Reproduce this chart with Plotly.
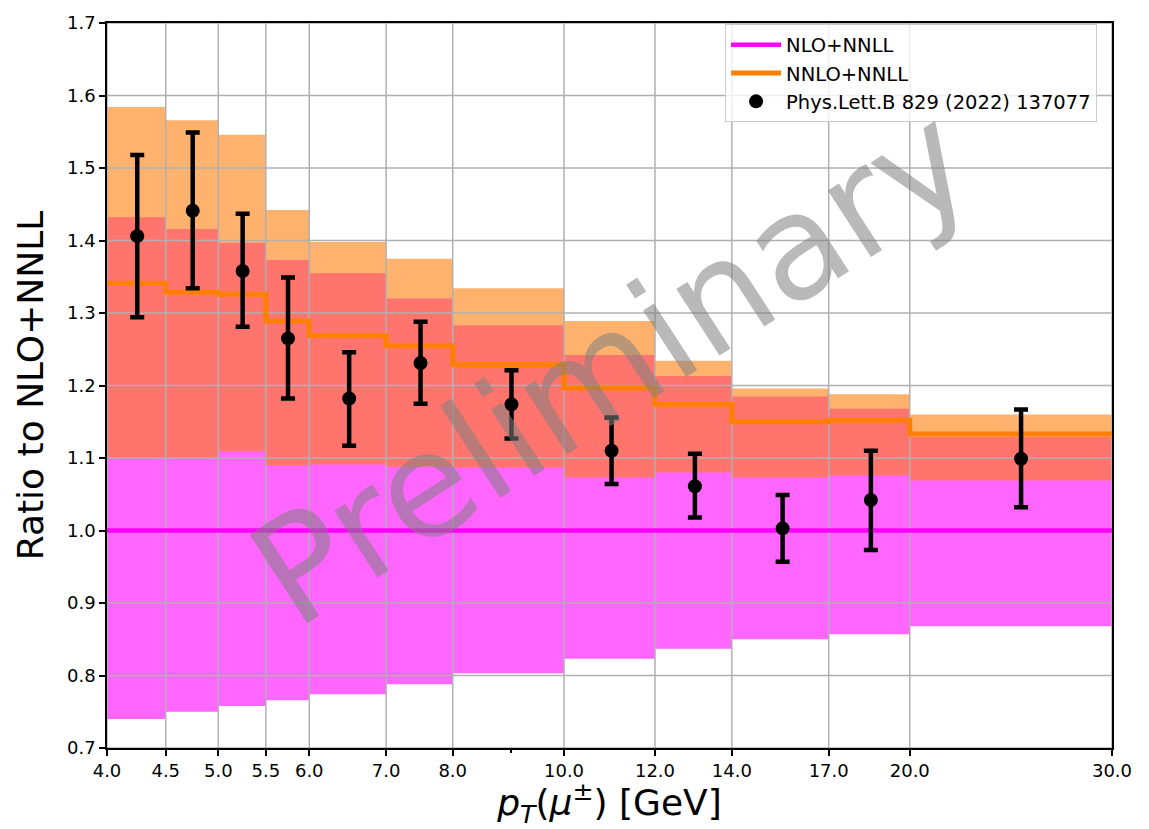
import math
import plotly.graph_objects as go

# ---- data ----
edges = [4.0, 4.5, 5.0, 5.5, 6.0, 7.0, 8.0, 10.0, 12.0, 14.0, 17.0, 20.0, 30.0]
x_tick_labels = ["4.0", "4.5", "5.0", "5.5", "6.0", "7.0", "8.0", "10.0", "12.0", "14.0", "17.0", "20.0", "30.0"]
y_ticks = [0.7, 0.8, 0.9, 1.0, 1.1, 1.2, 1.3, 1.4, 1.5, 1.6, 1.7]
bin_centers = [4.25, 4.75, 5.25, 5.75, 6.5, 7.5, 9.0, 11.0, 13.0, 15.5, 18.5, 25.0]

nlo_central = [1.0, 1.0, 1.0, 1.0, 1.0, 1.0, 1.0, 1.0, 1.0, 1.0, 1.0, 1.0]
nlo_lo = [0.740, 0.750, 0.758, 0.766, 0.774, 0.788, 0.803, 0.823, 0.837, 0.850, 0.857, 0.868]
nlo_hi = [1.432, 1.416, 1.397, 1.373, 1.355, 1.320, 1.283, 1.242, 1.213, 1.185, 1.168, 1.129]

nnlo_central = [1.341, 1.329, 1.326, 1.289, 1.269, 1.255, 1.229, 1.197, 1.174, 1.150, 1.152, 1.133]
nnlo_lo = [1.100, 1.100, 1.109, 1.090, 1.091, 1.088, 1.087, 1.073, 1.080, 1.073, 1.076, 1.069]
nnlo_hi = [1.584, 1.566, 1.546, 1.442, 1.398, 1.375, 1.334, 1.289, 1.234, 1.196, 1.188, 1.160]

data_val = [1.406, 1.441, 1.358, 1.265, 1.182, 1.231, 1.174, 1.110, 1.061, 1.003, 1.042, 1.099]
data_hi = [1.518, 1.549, 1.437, 1.349, 1.246, 1.288, 1.221, 1.156, 1.106, 1.049, 1.110, 1.167]
data_lo = [1.294, 1.334, 1.281, 1.182, 1.117, 1.175, 1.127, 1.064, 1.018, 0.957, 0.973, 1.032]


def step(vals):
    return list(vals) + [vals[-1]]


FONT = "DejaVu Sans"
fig = go.Figure()

# NLO+NNLL band
fig.add_trace(go.Scatter(x=edges, y=step(nlo_lo), mode="lines", line=dict(width=0, shape="hv"),
                         showlegend=False, hoverinfo="skip"))
fig.add_trace(go.Scatter(x=edges, y=step(nlo_hi), mode="lines", line=dict(width=0, shape="hv"),
                         fill="tonexty", fillcolor="rgba(255,0,255,0.6)", showlegend=False, hoverinfo="skip"))
# NNLO+NNLL band
fig.add_trace(go.Scatter(x=edges, y=step(nnlo_lo), mode="lines", line=dict(width=0, shape="hv"),
                         showlegend=False, hoverinfo="skip"))
fig.add_trace(go.Scatter(x=edges, y=step(nnlo_hi), mode="lines", line=dict(width=0, shape="hv"),
                         fill="tonexty", fillcolor="rgba(255,127,14,0.6)", showlegend=False, hoverinfo="skip"))

# grid lines (drawn above the bands, below the lines)
gx, gy = [], []
for t in edges:
    gx += [t, t, None]
    gy += [y_ticks[0], y_ticks[-1], None]
for t in y_ticks:
    gx += [edges[0], edges[-1], None]
    gy += [t, t, None]
fig.add_trace(go.Scatter(x=gx, y=gy, mode="lines", line=dict(color="#b0b0b0", width=1.5),
                         showlegend=False, hoverinfo="skip"))

# central lines
fig.add_trace(go.Scatter(x=edges, y=step(nlo_central), mode="lines", name="NLO+NNLL",
                         line=dict(color="#ff00ff", width=4.5, shape="hv")))
fig.add_trace(go.Scatter(x=edges, y=step(nnlo_central), mode="lines", name="NNLO+NNLL",
                         line=dict(color="#ff8000", width=5, shape="hv")))

# data
err_up = [h - v for h, v in zip(data_hi, data_val)]
err_dn = [v - l for v, l in zip(data_val, data_lo)]
fig.add_trace(go.Scatter(x=bin_centers, y=data_val, mode="markers", name="Phys.Lett.B 829 (2022) 137077",
                         marker=dict(color="black", size=14),
                         error_y=dict(type="data", symmetric=False, array=err_up, arrayminus=err_dn,
                                      color="black", thickness=4.5, width=7)))

fig.add_annotation(text="Preliminary", xref="paper", yref="paper", x=0.502, y=0.527,
                   showarrow=False, textangle=-33,
                   font=dict(family=FONT, size=145, color="rgba(128,128,128,0.55)"))

fig.update_layout(
    width=1149, height=829,
    margin=dict(l=107, r=37, t=14, b=81),
    paper_bgcolor="white", plot_bgcolor="white",
    font=dict(family=FONT, color="black"),
    legend=dict(x=0.615, y=0.998, xanchor="left", yanchor="top", traceorder="normal",
                itemwidth=50,
                bgcolor="rgba(255,255,255,0.8)", bordercolor="#cccccc", borderwidth=1,
                font=dict(family=FONT, size=19.5, color="black")),
    xaxis=dict(type="log", range=[math.log10(edges[0]), math.log10(edges[-1])],
               tickmode="array", tickvals=edges, ticktext=x_tick_labels,
               showgrid=False, zeroline=False, ticks="outside", ticklen=6, tickwidth=1.5, tickcolor="black",
               showline=True, linecolor="black", linewidth=1.5, mirror=True,
               tickfont=dict(family=FONT, size=18, color="black"),
               minor=dict(tickmode="array", tickvals=[9.0], ticks="outside", ticklen=3, tickcolor="black", showgrid=False),
               title=dict(text="<i>p</i><sub><i>T</i></sub>(<i>μ</i><sup>±</sup>) [GeV]",
                          font=dict(family=FONT, size=36, color="black"), standoff=6)),
    yaxis=dict(range=[y_ticks[0], y_ticks[-1]], tickmode="array", tickvals=y_ticks,
               ticktext=[f"{v:.1f}" for v in y_ticks],
               showgrid=False, zeroline=False, ticks="outside", ticklen=6, tickwidth=1.5, tickcolor="black",
               showline=True, linecolor="black", linewidth=1.5, mirror=True,
               tickfont=dict(family=FONT, size=18, color="black"),
               title=dict(text="Ratio to NLO+NNLL", font=dict(family=FONT, size=36, color="black"), standoff=12)),
)

fig.write_html("out.html")
